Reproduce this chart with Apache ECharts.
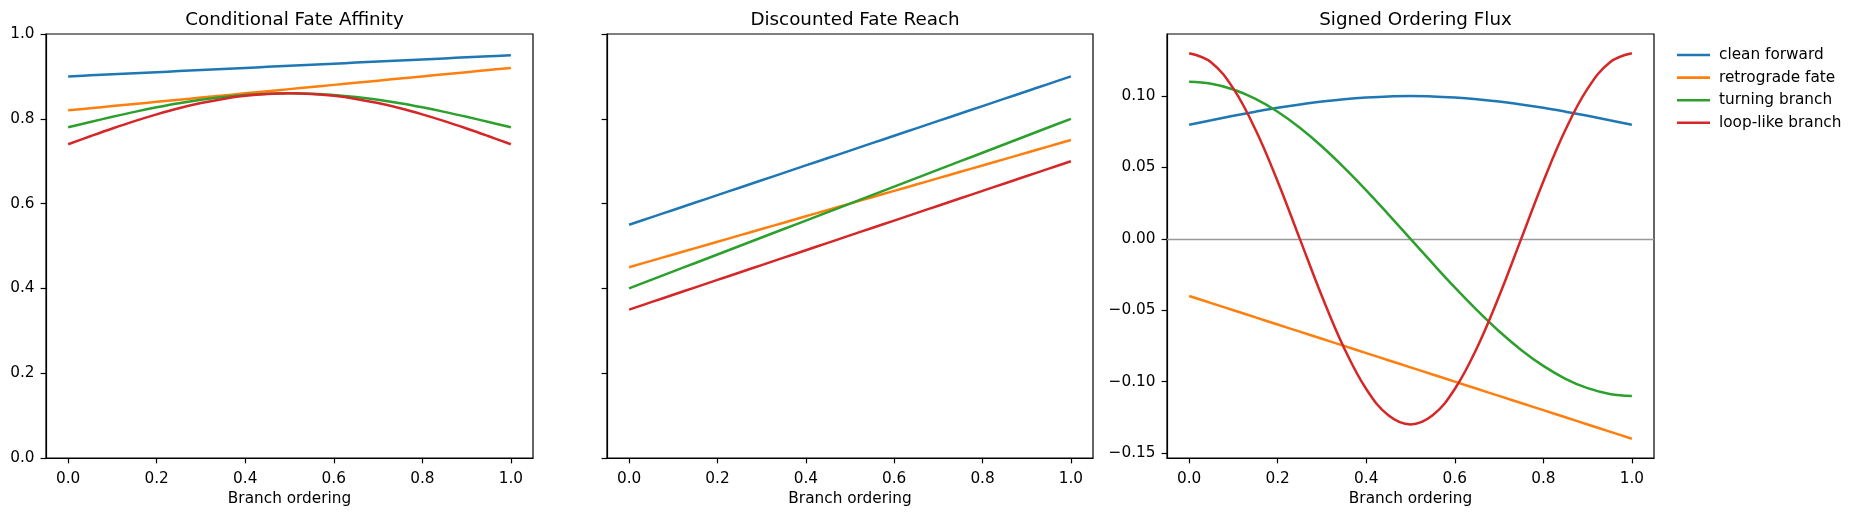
<!DOCTYPE html>
<html>
<head>
<meta charset="utf-8">
<script src="https://cdn.jsdelivr.net/npm/echarts@6/dist/echarts.min.js"></script>
<style>
html,body{margin:0;padding:0;background:#fff;}
#chart{width:1860px;height:516px;}
</style>
</head>
<body>
<div id="chart"></div>
<script>
// ---- data ----
var panelTitles = ['Conditional Fate Affinity', 'Discounted Fate Reach', 'Signed Ordering Flux'];
var seriesNames = ['clean forward', 'retrograde fate', 'turning branch', 'loop-like branch'];
var xLabel = 'Branch ordering';
var xs = [0.00, 0.05, 0.10, 0.15, 0.20, 0.25, 0.30, 0.35, 0.40, 0.45, 0.50,
          0.55, 0.60, 0.65, 0.70, 0.75, 0.80, 0.85, 0.90, 0.95, 1.00];
var xTicks = [0, 0.2, 0.4, 0.6, 0.8, 1.0];
var fluxTicks = [-0.15, -0.10, -0.05, 0, 0.05, 0.10];

// Panel 1: Conditional Fate Affinity
var affinityClean = [0.9000, 0.9025, 0.9050, 0.9075, 0.9100, 0.9125, 0.9150, 0.9175, 0.9200, 0.9225, 0.9250,
                     0.9275, 0.9300, 0.9325, 0.9350, 0.9375, 0.9400, 0.9425, 0.9450, 0.9475, 0.9500];
var affinityRetro = [0.820, 0.825, 0.830, 0.835, 0.840, 0.845, 0.850, 0.855, 0.860, 0.865, 0.870,
                     0.875, 0.880, 0.885, 0.890, 0.895, 0.900, 0.905, 0.910, 0.915, 0.920];
var affinityTurn  = [0.7800, 0.7925, 0.8047, 0.8163, 0.8270, 0.8366, 0.8447, 0.8513, 0.8561, 0.8590, 0.8600,
                     0.8590, 0.8561, 0.8513, 0.8447, 0.8366, 0.8270, 0.8163, 0.8047, 0.7925, 0.7800];
var affinityLoop  = [0.7400, 0.7588, 0.7771, 0.7945, 0.8105, 0.8249, 0.8371, 0.8469, 0.8541, 0.8585, 0.8600,
                     0.8585, 0.8541, 0.8469, 0.8371, 0.8249, 0.8105, 0.7945, 0.7771, 0.7588, 0.7400];

// Panel 2: Discounted Fate Reach
var reachClean = [0.5500, 0.5675, 0.5850, 0.6025, 0.6200, 0.6375, 0.6550, 0.6725, 0.6900, 0.7075, 0.7250,
                  0.7425, 0.7600, 0.7775, 0.7950, 0.8125, 0.8300, 0.8475, 0.8650, 0.8825, 0.9000];
var reachRetro = [0.450, 0.465, 0.480, 0.495, 0.510, 0.525, 0.540, 0.555, 0.570, 0.585, 0.600,
                  0.615, 0.630, 0.645, 0.660, 0.675, 0.690, 0.705, 0.720, 0.735, 0.750];
var reachTurn  = [0.400, 0.420, 0.440, 0.460, 0.480, 0.500, 0.520, 0.540, 0.560, 0.580, 0.600,
                  0.620, 0.640, 0.660, 0.680, 0.700, 0.720, 0.740, 0.760, 0.780, 0.800];
var reachLoop  = [0.3500, 0.3675, 0.3850, 0.4025, 0.4200, 0.4375, 0.4550, 0.4725, 0.4900, 0.5075, 0.5250,
                  0.5425, 0.5600, 0.5775, 0.5950, 0.6125, 0.6300, 0.6475, 0.6650, 0.6825, 0.7000];

// Panel 3: Signed Ordering Flux
var fluxClean = [0.0800, 0.0831, 0.0862, 0.0891, 0.0918, 0.0941, 0.0962, 0.0978, 0.0990, 0.0998, 0.1000,
                 0.0998, 0.0990, 0.0978, 0.0962, 0.0941, 0.0918, 0.0891, 0.0862, 0.0831, 0.0800];
var fluxRetro = [-0.040, -0.045, -0.050, -0.055, -0.060, -0.065, -0.070, -0.075, -0.080, -0.085, -0.090,
                 -0.095, -0.100, -0.105, -0.110, -0.115, -0.120, -0.125, -0.130, -0.135, -0.140];
var fluxTurn  = [0.1100, 0.1086, 0.1046, 0.0980, 0.0890, 0.0778, 0.0647, 0.0499, 0.0340, 0.0172, 0.0000,
                 -0.0172, -0.0340, -0.0499, -0.0647, -0.0778, -0.0890, -0.0980, -0.1046, -0.1086, -0.1100];
var fluxLoop  = [0.1300, 0.1236, 0.1052, 0.0764, 0.0402, 0.0000, -0.0402, -0.0764, -0.1052, -0.1236, -0.1300,
                 -0.1236, -0.1052, -0.0764, -0.0402, 0.0000, 0.0402, 0.0764, 0.1052, 0.1236, 0.1300];

var colors = ['#1f77b4', '#ff7f0e', '#2ca02c', '#d62728'];

// ---- chart ----
var FONT = 'DejaVu Sans';
var FS = 15.3, TFS = 18.3;
var panels = [
  [affinityClean, affinityRetro, affinityTurn, affinityLoop],
  [reachClean, reachRetro, reachTurn, reachLoop],
  [fluxClean, fluxRetro, fluxTurn, fluxLoop]
];
var gridLefts = [46, 607, 1167];
var gridWidths = [487, 486, 487];
var gridTop = 34, gridHeight = 424;

function pairs(arr) { return xs.map(function (x, i) { return [x, arr[i]]; }); }
function minus(s) { return s.replace('-', '\u2212'); }

var axisLineStyle = { color: '#000', width: 1.2 };
var grids = [], xAxes = [], yAxes = [], titles = [], series = [];
for (var p = 0; p < 3; p++) {
  grids.push({
    left: gridLefts[p], top: gridTop, width: gridWidths[p], height: gridHeight,
    show: true, borderColor: '#000', borderWidth: 1.2, backgroundColor: 'transparent',
    containLabel: false
  });
  titles.push({
    text: panelTitles[p],
    left: gridLefts[p] + gridWidths[p] / 2, top: 6, textAlign: 'center',
    textStyle: { fontFamily: FONT, fontSize: TFS, fontWeight: 'normal', color: '#000' }
  });
  xAxes.push({
    gridIndex: p, type: 'value', min: -0.05, max: 1.05,
    name: xLabel, nameLocation: 'middle', nameGap: 32,
    nameTextStyle: { fontFamily: FONT, fontSize: FS, color: '#000' },
    splitLine: { show: false },
    axisLine: { show: true, onZero: false, lineStyle: axisLineStyle },
    axisTick: { show: true, inside: false, length: 5.4, customValues: xTicks, lineStyle: axisLineStyle },
    axisLabel: { show: true, margin: 14, customValues: xTicks, fontFamily: FONT, fontSize: FS, color: '#000',
                 formatter: function (v) { return v.toFixed(1); } }
  });
  var isFlux = (p === 2);
  yAxes.push({
    gridIndex: p, type: 'value',
    min: isFlux ? -0.1535 : 0, max: isFlux ? 0.1435 : 1,
    interval: isFlux ? undefined : 0.2,
    splitLine: { show: false },
    axisLine: { show: true, onZero: false, lineStyle: axisLineStyle },
    axisTick: isFlux
      ? { show: true, inside: false, length: 5.4, customValues: fluxTicks, lineStyle: axisLineStyle }
      : { show: true, inside: false, length: 5.4, lineStyle: axisLineStyle },
    axisLabel: isFlux
      ? { show: true, margin: 11.5, customValues: fluxTicks, fontFamily: FONT, fontSize: FS, color: '#000',
          formatter: function (v) { return minus(v.toFixed(2)); } }
      : { show: p === 0, margin: 11.5, fontFamily: FONT, fontSize: FS, color: '#000',
          formatter: function (v) { return v.toFixed(1); } }
  });
  for (var s = 0; s < 4; s++) {
    var ser = {
      name: seriesNames[s], type: 'line', xAxisIndex: p, yAxisIndex: p,
      data: pairs(panels[p][s]), showSymbol: false, symbol: 'none', smooth: 0.4,
      lineStyle: { color: colors[s], width: 2.5 }, itemStyle: { color: colors[s] },
      z: 3 + s, animation: false, silent: true
    };
    if (isFlux && s === 0) {
      ser.markLine = {
        silent: true, symbol: 'none', animation: false, z: 1,
        label: { show: false },
        lineStyle: { color: '#999999', width: 1.4, type: 'solid' },
        data: [{ yAxis: 0 }]
      };
    }
    series.push(ser);
  }
}

var chart = echarts.init(document.getElementById('chart'), null, { renderer: 'canvas' });
chart.setOption({
  animation: false,
  backgroundColor: '#ffffff',
  color: colors,
  title: titles,
  grid: grids,
  xAxis: xAxes,
  yAxis: yAxes,
  legend: {
    orient: 'vertical', left: 1672, top: 41.5,
    icon: 'rect', itemWidth: 33, itemHeight: 2.6, itemGap: 5.6,
    data: seriesNames,
    textStyle: { fontFamily: FONT, fontSize: FS, color: '#000', lineHeight: 17, padding: [0, 0, 0, 4] }
  },
  series: series
});
</script>
</body>
</html>
